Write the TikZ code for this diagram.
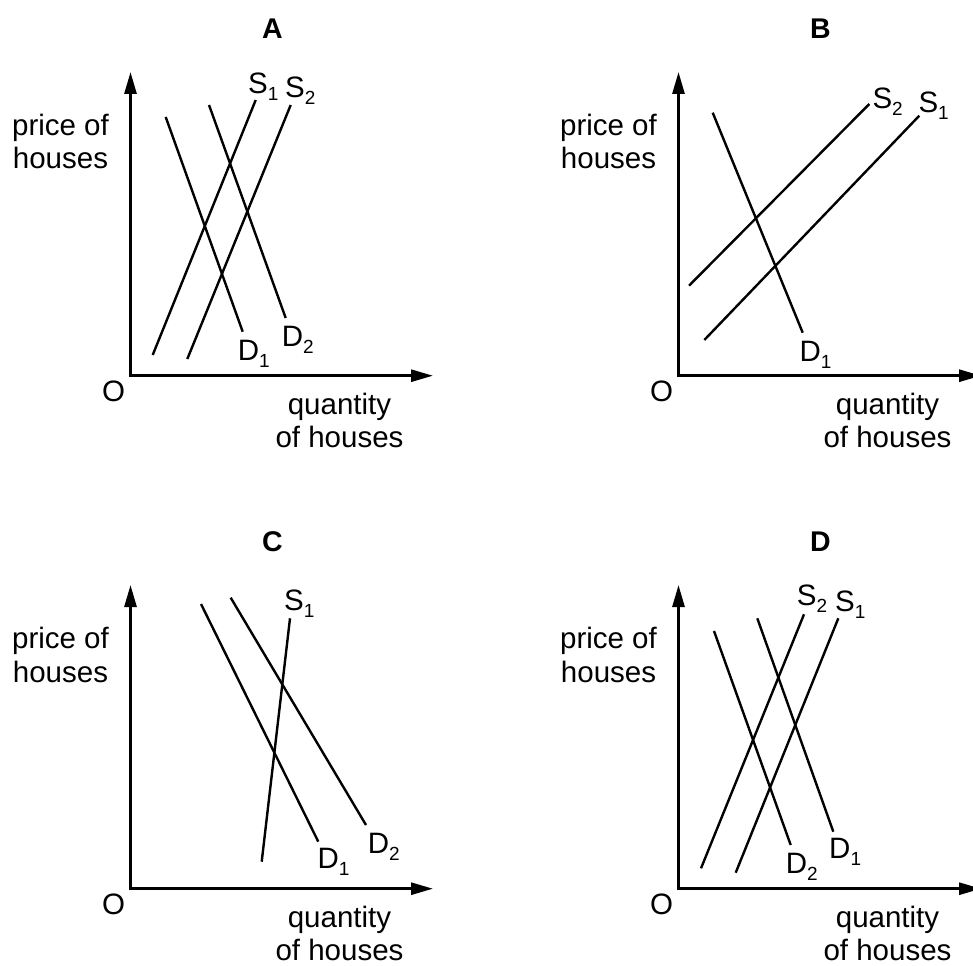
\documentclass[tikz,border=0pt]{standalone}
\usepackage{fontspec}
\setmainfont{Liberation Sans}
\usetikzlibrary{arrows.meta}

% curve name with a lowered index
\newcommand{\crv}[2]{#1\raisebox{-7pt}{\fontsize{19}{19}\selectfont #2}}

\begin{document}
\begin{tikzpicture}[
    x=1pt, y=-1pt,
    >={Triangle[length=22pt,width=12pt]},
    font=\fontsize{29.5}{33.5}\selectfont,
    axis/.style={<->, line width=2.8pt},
    curve/.style={line width=2.4pt},
    txt/.style={align=center, anchor=base, inner sep=0pt},
    lbl/.style={anchor=base west, inner sep=0pt},
    ttl/.style={anchor=base, inner sep=0pt, font=\fontsize{28.5}{30}\selectfont\bfseries},
]
\useasboundingbox (0,0) rectangle (973,965);

% panel offsets: A top left, B top right, C bottom left, D bottom right
\foreach \p/\dx/\dy in {A/0/0, B/548/0, C/0/513, D/548/513} {
  \begin{scope}[shift={(\dx,\dy)}]
    \coordinate (\p-top) at (130.5,72);
    \coordinate (\p-end) at (433,375.7);
    \draw[axis] (\p-top) |- (\p-end);
    \node[ttl] (\p-title) at (272.5,38.3) {\p};
    \node[txt] (\p-O) at (113.5,401.5) {O};
    \node[txt] (\p-price) at (60.5,169) {price of\\houses};
    \node[txt] (\p-qty) at (339.5,447.5) {quantity\\of houses};
  \end{scope}
}

% A
\draw[curve] (165.7,117) -- (242.7,331.7);
\draw[curve] (209,105) -- (285.7,318);
\draw[curve] (152.7,355) -- (255.7,100);
\draw[curve] (187.3,359) -- (290.7,105);
\node[lbl] (A-s1) at (248,94) {\crv{S}{1}};
\node[lbl] (A-s2) at (285,98) {\crv{S}{2}};
\node[lbl] (A-d1) at (237.7,360) {\crv{D}{1}};
\node[lbl] (A-d2) at (281.7,346.7) {\crv{D}{2}};

% B
\begin{scope}[shift={(548,0)}]
  \draw[curve] (164.7,112.7) -- (254.7,332.7);
  \draw[curve] (141,285.7) -- (321.3,104);
  \draw[curve] (156.3,340) -- (371.3,115.7);
  \node[lbl] (B-s2) at (324.3,108.3) {\crv{S}{2}};
  \node[lbl] (B-s1) at (370.3,113) {\crv{S}{1}};
  \node[lbl] (B-d1) at (251.3,361.7) {\crv{D}{1}};
\end{scope}

% C
\begin{scope}[shift={(0,513)}]
  \draw[curve] (201,91) -- (318.3,328.7);
  \draw[curve] (230.7,84.7) -- (366,312);
  \draw[curve] (261.7,348.7) -- (290,105.3);
  \node[lbl] (C-s1) at (284,97) {\crv{S}{1}};
  \node[lbl] (C-d1) at (317.3,355.3) {\crv{D}{1}};
  \node[lbl] (C-d2) at (367.7,340.3) {\crv{D}{2}};
\end{scope}

% D
\begin{scope}[shift={(548,513)}]
  \draw[curve] (166,118) -- (242.7,332);
  \draw[curve] (209.3,105.3) -- (285.3,318.7);
  \draw[curve] (153,355.3) -- (256,101.3);
  \draw[curve] (187.7,359.7) -- (290.3,105.3);
  \node[lbl] (D-s2) at (248.7,92) {\crv{S}{2}};
  \node[lbl] (D-s1) at (287,98.7) {\crv{S}{1}};
  \node[lbl] (D-d2) at (237.7,360.3) {\crv{D}{2}};
  \node[lbl] (D-d1) at (281,345.3) {\crv{D}{1}};
\end{scope}

\end{tikzpicture}
\end{document}
